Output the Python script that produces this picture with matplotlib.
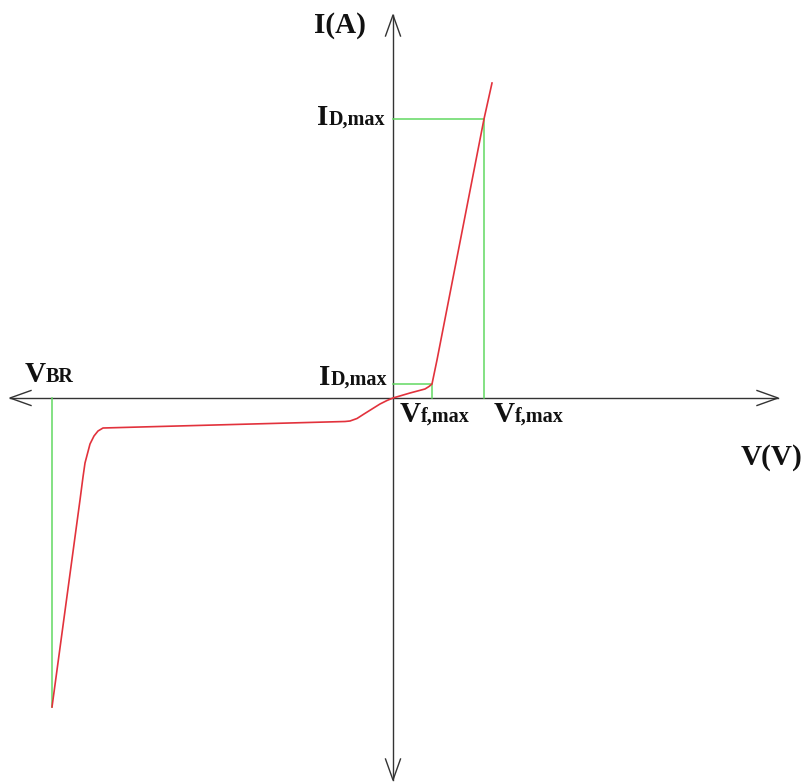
import matplotlib
matplotlib.use("Agg")
import matplotlib.pyplot as plt

# Diode I-V characteristic (schematic units)
curve_v = [-34.1, -31.3, -31.0, -30.8, -30.3, -29.9, -29.5, -29.0, -4.8, -4.3, -3.6, -2.9,
           -2.1, -1.3, -0.6, 0.0, 1.7, 3.2, 3.6, 3.9, 4.4, 9.1, 9.9]
curve_i = [-30.9, -10.2, -7.9, -6.5, -4.6, -3.8, -3.3, -3.0, -2.35, -2.3, -2.05, -1.6,
           -1.1, -0.6, -0.25, 0.0, 0.5, 0.9, 1.15, 1.4, 3.8, 27.9, 31.5]

v_br = -34.1
i_br = -30.9
vf_knee = 3.9
id_knee = 1.4
vf_max = 9.1
id_max = 27.9

RED = "#e2323c"
GREEN = "#62d862"
AXIS = "#333333"
FONT = "Liberation Serif"
BIG = 21
SMALL = 14.5

fig = plt.figure(figsize=(8.03, 7.82), dpi=100)
ax = fig.add_axes([0, 0, 1, 1])
ax.set_xlim(-39.3, 41.0)
ax.set_ylim(-38.4, 39.8)
ax.axis("off")

# axes with open arrowheads
ax.plot([-38.3, 38.5], [0, 0], color=AXIS, lw=1.0)
ax.plot([0, 0], [-38.2, 38.3], color=AXIS, lw=1.0)
L, W = 2.1, 0.75
for tip, d in [((38.5, 0), (1, 0)), ((-38.3, 0), (-1, 0)), ((0, 38.3), (0, 1)), ((0, -38.2), (0, -1))]:
    tx, ty = tip
    dx, dy = d
    bx, by = tx - dx * L, ty - dy * L
    px, py = -dy * W, dx * W
    ax.plot([bx + px, tx, bx - px], [by + py, ty, by - py], color=AXIS, lw=1.0)

# guide lines
ax.plot([v_br, v_br], [0, i_br], color=GREEN, lw=1.1)
ax.plot([0, vf_knee, vf_knee], [id_knee, id_knee, 0], color=GREEN, lw=1.1)
ax.plot([0, vf_max, vf_max], [id_max, id_max, 0], color=GREEN, lw=1.1)

# characteristic curve
ax.plot(curve_v, curve_i, color=RED, lw=1.2)

fig.canvas.draw()
inv = ax.transData.inverted()


def two_part(x, y, big, small, align="left"):
    """Large initial letter followed by smaller text on the same baseline."""
    kw = dict(family=FONT, fontweight="bold", va="baseline", color="#111111")
    if align == "left":
        t = ax.text(x, y, big, fontsize=BIG, ha="left", **kw)
        bb = t.get_window_extent(fig.canvas.get_renderer())
        x2 = inv.transform((bb.x1, 0))[0]
        ax.text(x2, y, small, fontsize=SMALL, ha="left", **kw)
    else:
        t = ax.text(x, y, small, fontsize=SMALL, ha="right", **kw)
        bb = t.get_window_extent(fig.canvas.get_renderer())
        x2 = inv.transform((bb.x0, 0))[0]
        ax.text(x2, y, big, fontsize=BIG, ha="right", **kw)


two_part(-0.8, 27.3, "I", "D,max", align="right")
two_part(-0.6, 1.3, "I", "D,max", align="right")
two_part(0.7, -2.4, "V", "f,max")
two_part(10.1, -2.4, "V", "f,max")
two_part(-36.8, 1.6, "V", "BR")
ax.text(-7.9, 36.5, "I(A)", family=FONT, fontweight="bold", fontsize=BIG, va="baseline", ha="left", color="#111111")
ax.text(40.9, -6.7, "V(V)", family=FONT, fontweight="bold", fontsize=BIG, va="baseline", ha="right", color="#111111")

fig.savefig("out.png", dpi=100)
